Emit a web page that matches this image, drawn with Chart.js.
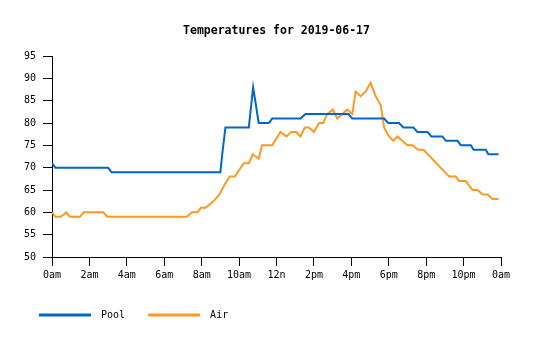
<!DOCTYPE html>
<html>
<head>
<meta charset="utf-8">
<title>Temperatures for 2019-06-17</title>
<script src="https://cdn.jsdelivr.net/npm/chart.js@4/dist/chart.umd.min.js"></script>
<style>
  html, body { margin: 0; padding: 0; background: #fff; }
  #wrap { width: 535px; height: 340px; }
</style>
</head>
<body>
<div id="wrap"><canvas id="mycanvas" width="535" height="340"></canvas></div>
<script>
var chartTitle = 'Temperatures for 2019-06-17';
var xLabels = ['0am', '2am', '4am', '6am', '8am', '10am', '12n', '2pm', '4pm', '6pm', '8pm', '10pm', '0am'];

// hours since midnight, degrees F
var poolHours = [0, 0.18, 3.0, 3.18, 9.0, 9.1, 9.27, 10.52, 10.75, 11.05, 11.59, 11.77, 13.28, 13.55,
  15.85, 16.05, 17.75, 17.97, 18.55, 18.78, 19.32, 19.53, 20.07, 20.28, 20.87, 21.05, 21.68, 21.85,
  22.39, 22.53, 23.19, 23.32, 23.87];
var poolTemps = [71, 70, 70, 69, 69, 73, 79, 79, 88, 80, 80, 81, 81, 82,
  82, 81, 81, 80, 80, 79, 79, 78, 78, 77, 77, 76, 76, 75,
  75, 74, 74, 73, 73];

var airHours = [0, 0.18, 0.46, 0.77, 0.95, 1.5, 1.69, 2.73, 2.96, 7.21, 7.48, 7.78, 7.96, 8.2, 8.5,
  8.75, 8.95, 9.2, 9.5, 9.77, 10.25, 10.52, 10.73, 11.05, 11.23, 11.77, 12.21, 12.53, 12.79, 13.05,
  13.28, 13.51, 13.73, 14.0, 14.27, 14.5, 14.71, 15.01, 15.25, 15.52, 15.78, 16.05, 16.23, 16.5,
  16.76, 17.03, 17.3, 17.57, 17.75, 18.01, 18.25, 18.46, 19.0, 19.27, 19.57, 19.86, 21.23, 21.59,
  21.76, 22.12, 22.48, 22.75, 23.02, 23.28, 23.55, 23.87];
var airTemps = [60, 59, 59, 60, 59, 59, 60, 60, 59, 59, 60, 60, 61, 61, 62,
  63, 64, 66, 68, 68, 71, 71, 73, 72, 75, 75, 78, 77, 78, 78,
  77, 79, 79, 78, 80, 80, 82, 83, 81, 82, 83, 82, 87, 86,
  87, 89, 86, 84, 79, 77, 76, 77, 75, 75, 74, 74, 68, 68,
  67, 67, 65, 65, 64, 64, 63, 63];

function points(hours, temps) {
  var out = [];
  for (var i in hours) {
    out.push({x: hours[i], y: temps[i]});
  }
  return out;
}

var monoFont = '"DejaVu Sans Mono", "Liberation Mono", monospace';

// title centred over the plot area
var titlePlugin = {
  id: 'plotTitle',
  afterDraw: function(chart) {
    var ctx = chart.ctx;
    var area = chart.chartArea;
    ctx.save();
    ctx.fillStyle = '#000';
    ctx.font = 'bold 11.5px ' + monoFont;
    ctx.textAlign = 'center';
    ctx.textBaseline = 'middle';
    ctx.fillText(chartTitle, (area.left + area.right) / 2, 31);
    ctx.restore();
  }
};

var chartdata = {
  datasets: [
    {
      label: 'Pool',
      data: points(poolHours, poolTemps),
      borderColor: '#0066cc',
      backgroundColor: '#0066cc',
      borderWidth: 2,
      pointRadius: 0,
      tension: 0
    },
    {
      label: 'Air',
      data: points(airHours, airTemps),
      borderColor: '#ff9922',
      backgroundColor: '#ff9922',
      borderWidth: 2,
      pointRadius: 0,
      tension: 0
    }
  ]
};

var ctx = document.getElementById('mycanvas');

var lineGraph = new Chart(ctx, {
  type: 'line',
  data: chartdata,
  plugins: [titlePlugin],
  options: {
    responsive: false,
    animation: false,
    events: [],
    layout: { padding: { left: 16, right: 34, top: 56, bottom: 10 } },
    plugins: {
      title: { display: false },
      tooltip: { enabled: false },
      legend: {
        position: 'bottom',
        align: 'start',
        maxHeight: 50,
        labels: {
          boxWidth: 50,
          boxHeight: 1,
          padding: 24,
          color: '#000',
          font: { family: monoFont, size: 10 },
          generateLabels: function(chart) {
            var items = Chart.defaults.plugins.legend.labels.generateLabels(chart);
            items.forEach(function(item) { item.text = ' ' + item.text; });
            return items;
          }
        }
      }
    },
    scales: {
      x: {
        type: 'linear',
        min: 0,
        max: 24,
        afterFit: function(scale) { scale.height = 29; },
        border: { color: '#000', width: 1 },
        grid: { drawOnChartArea: false, drawTicks: true, tickLength: 9, color: '#000' },
        ticks: {
          stepSize: 2,
          autoSkip: false,
          maxRotation: 0,
          padding: 3,
          color: '#000',
          font: { family: monoFont, size: 10 },
          callback: function(value) { return xLabels[value / 2]; }
        }
      },
      y: {
        min: 50,
        max: 95,
        afterFit: function(scale) { scale.width = 36; },
        border: { color: '#000', width: 1 },
        grid: { drawOnChartArea: false, drawTicks: true, tickLength: 9, color: '#000' },
        ticks: {
          stepSize: 5,
          padding: 7,
          color: '#000',
          font: { family: monoFont, size: 10 }
        }
      }
    }
  }
});
</script>
</body>
</html>
